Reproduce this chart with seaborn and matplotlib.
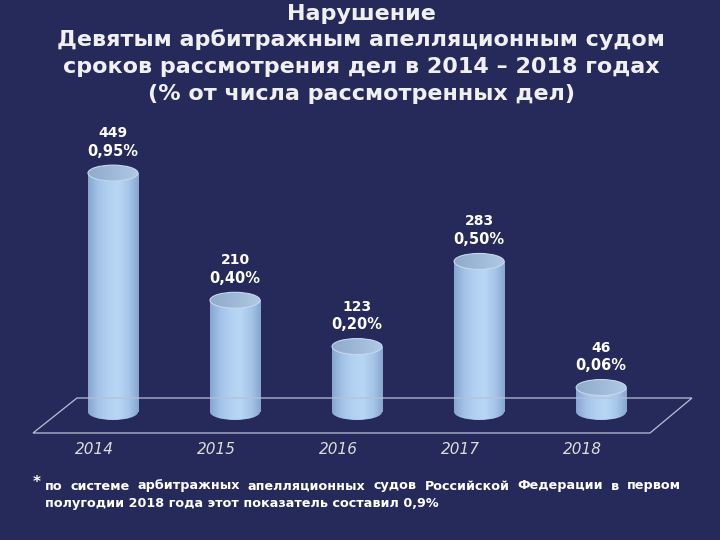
import numpy as np
import pandas as pd
import matplotlib
matplotlib.use("Agg")
import matplotlib.pyplot as plt
import seaborn as sns
from matplotlib.patches import Ellipse, Polygon
from matplotlib.colors import LinearSegmentedColormap

years = ["2014", "2015", "2016", "2017", "2018"]
counts = [449, 210, 123, 283, 46]
pct_labels = ["0,95%", "0,40%", "0,20%", "0,50%", "0,06%"]

title_lines = ["Нарушение",
               "Девятым арбитражным апелляционным судом",
               "сроков рассмотрения дел в 2014 – 2018 годах",
               "(% от числа рассмотренных дел)"]
foot1 = "по системе арбитражных апелляционных судов Российской Федерации в первом"
foot2 = "полугодии 2018 года этот показатель составил 0,9%"

BG = "#262a5a"
W, H = 720, 540

sns.set_theme(style="white")
plt.rcParams['font.family'] = ['DejaVu Sans']

fig = plt.figure(figsize=(7.2, 5.4), dpi=100)
fig.patch.set_facecolor(BG)

def fx(px):
    return px / W

def fy(py):
    return 1 - py / H

# floor parallelogram (decoration)
floor = Polygon([(fx(33), fy(433)), (fx(650), fy(433)), (fx(692), fy(398)), (fx(77), fy(398))],
                closed=True, transform=fig.transFigure, facecolor="none",
                edgecolor="#b8bfd8", lw=0.9, zorder=0)
fig.patches.append(floor)

ax = fig.add_axes([fx(30), fy(432), fx(670), 322 / H])
ax.set_facecolor("none")
df = pd.DataFrame({"year": years, "count": counts})
sns.barplot(data=df, x="year", y="count", width=0.41, color="#a9c6e8", saturation=1,
            edgecolor="none", ax=ax, zorder=2)
ax.set_xlim(-0.68, 4.81)
ax.set_ylim(-37.6, 567.6)
for s in ax.spines.values():
    s.set_visible(False)
ax.set_xlabel("")
ax.set_ylabel("")
ax.set_yticks([])
ax.set_xticks([])

cmap = LinearSegmentedColormap.from_list(
    "cyl", ["#86a6d0", "#a2c2e8", "#b2d1f2", "#b8d7f5", "#a6c6ea", "#86a6cf"])
tcmap = LinearSegmentedColormap.from_list("top", ["#8faacb", "#9fb9d8", "#b0c9e4"])
grad = np.linspace(0, 1, 256).reshape(1, -1)
eh = 30

for i, p in enumerate(list(ax.patches)):
    x0, w, h = p.get_x(), p.get_width(), p.get_height()
    cx = x0 + w / 2
    im = ax.imshow(grad, extent=[x0, x0 + w, 0, h], aspect="auto", cmap=cmap, zorder=3)
    im.set_clip_path(p)
    bot = Ellipse((cx, 0), w, eh, facecolor="none", edgecolor="none", zorder=3)
    ax.add_patch(bot)
    im2 = ax.imshow(grad, extent=[x0, x0 + w, -eh, 0], aspect="auto", cmap=cmap, zorder=3)
    im2.set_clip_path(bot)
    top = Ellipse((cx, h), w, eh, facecolor="none", edgecolor="#c6d8ee", lw=0.8, zorder=5)
    ax.add_patch(top)
    im3 = ax.imshow(grad, extent=[x0, x0 + w, h - eh, h + eh], aspect="auto", cmap=tcmap, zorder=4)
    im3.set_clip_path(top)
    ax.annotate(pct_labels[i], xy=(cx, h), xytext=(0, 22), textcoords="offset pixels",
                ha="center", va="center", color="white", fontsize=10.5, fontweight="bold")
    ax.annotate(str(counts[i]), xy=(cx, h), xytext=(0, 40), textcoords="offset pixels",
                ha="center", va="center", color="white", fontsize=10, fontweight="bold")
    ax.annotate(years[i], xy=(cx, 0), xytext=(-19, -38), textcoords="offset pixels",
                ha="center", va="center", color="#dcdcdc", fontsize=11, fontstyle="italic",
                annotation_clip=False)

# title
for k, (line, py) in enumerate(zip(title_lines, [14, 40, 67, 94])):
    fig.text(fx(361), fy(py), line, ha="center", va="center", color="#f0f0f2",
             fontsize=16, fontweight="bold")

# footnote
fig.text(fx(33), fy(482), "*", ha="left", va="center", color="white", fontsize=11, fontweight="bold")
fig.canvas.draw()
renderer = fig.canvas.get_renderer()
words = foot1.split(" ")
tmp = [fig.text(0, 0, wd, fontsize=9.2, fontweight="bold") for wd in words]
widths = [t.get_window_extent(renderer).width for t in tmp]
for t in tmp:
    t.remove()
left, right = 45, 681
gap = (right - left - sum(widths)) / (len(words) - 1)
xpos = left
for wd, wdt in zip(words, widths):
    fig.text(fx(xpos), fy(486), wd, ha="left", va="center", color="white",
             fontsize=9.2, fontweight="bold")
    xpos += wdt + gap
fig.text(fx(45), fy(503), foot2, ha="left", va="center", color="white",
         fontsize=9.2, fontweight="bold")

fig.savefig("out.png", dpi=100, facecolor=BG)
